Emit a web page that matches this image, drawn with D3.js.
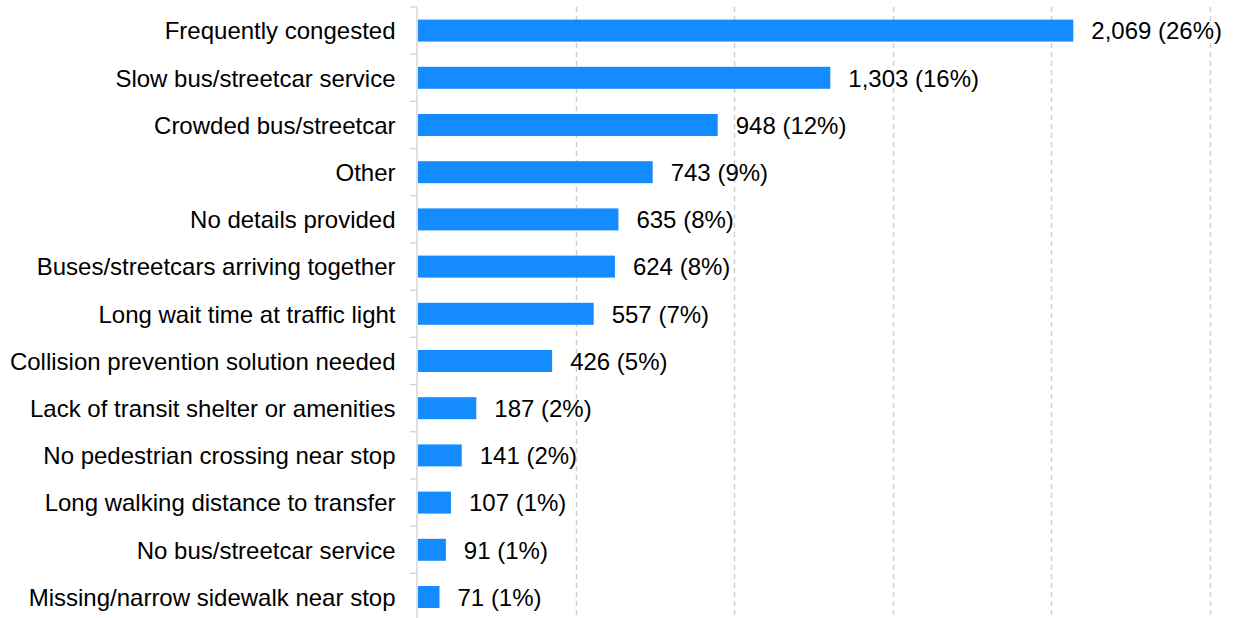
<!DOCTYPE html>
<html>
<head>
<meta charset="utf-8">
<script src="https://cdn.jsdelivr.net/npm/d3@7"></script>
<style>
  body { margin: 0; background: #fff; }
  svg { display: block; font-family: "Liberation Sans", Arial, sans-serif; }
</style>
</head>
<body>
<svg width="1233" height="618"></svg>
<script>
const categories = [
  'Frequently congested',
  'Slow bus/streetcar service',
  'Crowded bus/streetcar',
  'Other',
  'No details provided',
  'Buses/streetcars arriving together',
  'Long wait time at traffic light',
  'Collision prevention solution needed',
  'Lack of transit shelter or amenities',
  'No pedestrian crossing near stop',
  'Long walking distance to transfer',
  'No bus/streetcar service',
  'Missing/narrow sidewalk near stop'
];
const counts = [2069, 1303, 948, 743, 635, 624, 557, 426, 187, 141, 107, 91, 71];
const percents = [26, 16, 12, 9, 8, 8, 7, 5, 2, 2, 1, 1, 1];
const gridTicks = [500, 1000, 1500, 2000, 2500];

const fontSize = 24;
const svg = d3.select('svg');
const margin = {top: 7, left: 417};

const x = d3.scaleLinear()
  .domain([0, 2500])
  .range([margin.left, 1210]);

const y = d3.scaleBand()
  .domain(categories)
  .range([margin.top, margin.top + 47.2 * categories.length])
  .paddingInner(0.534)
  .paddingOuter(0.267);

// dashed vertical gridlines
svg.append('g')
  .selectAll('line')
  .data(gridTicks)
  .join('line')
  .attr('x1', d => Math.round(x(d)) + 0.5)
  .attr('x2', d => Math.round(x(d)) + 0.5)
  .attr('y1', margin.top)
  .attr('y2', 618)
  .attr('stroke', '#cfcfcf')
  .attr('stroke-width', 1.5)
  .attr('stroke-dasharray', '5,4');

// category axis
const yAxis = svg.append('g')
  .attr('transform', `translate(${margin.left - 0.5},0)`)
  .call(d3.axisLeft(y).tickSize(0).tickPadding(21));
yAxis.select('.domain').attr('stroke', '#d0d0d0').attr('stroke-width', 1.3);
yAxis.selectAll('text')
  .attr('font-size', fontSize)
  .attr('dy', '0.37em')
  .attr('fill', '#000')
  .attr('font-family', '"Liberation Sans", Arial, sans-serif');

// small separator ticks between categories
const step = y.step();
svg.append('g')
  .selectAll('line')
  .data(d3.range(categories.length + 1))
  .join('line')
  .attr('x1', margin.left - 7)
  .attr('x2', margin.left)
  .attr('y1', i => margin.top + i * step)
  .attr('y2', i => margin.top + i * step)
  .attr('stroke', '#d0d0d0')
  .attr('stroke-width', 1.3);

// bars
svg.append('g')
  .selectAll('rect')
  .data(categories)
  .join('rect')
  .attr('x', x(0) + 1)
  .attr('y', d => y(d))
  .attr('width', (d, i) => x(counts[i]) - x(0) - 1)
  .attr('height', y.bandwidth())
  .attr('fill', '#148cff');

// value labels
svg.append('g')
  .selectAll('text')
  .data(categories)
  .join('text')
  .attr('x', (d, i) => x(counts[i]) + 18)
  .attr('y', d => y(d) + y.bandwidth() / 2)
  .attr('dy', '0.37em')
  .attr('font-size', fontSize)
  .attr('fill', '#000')
  .text((d, i) => `${d3.format(',')(counts[i])} (${percents[i]}%)`);
</script>
</body>
</html>
